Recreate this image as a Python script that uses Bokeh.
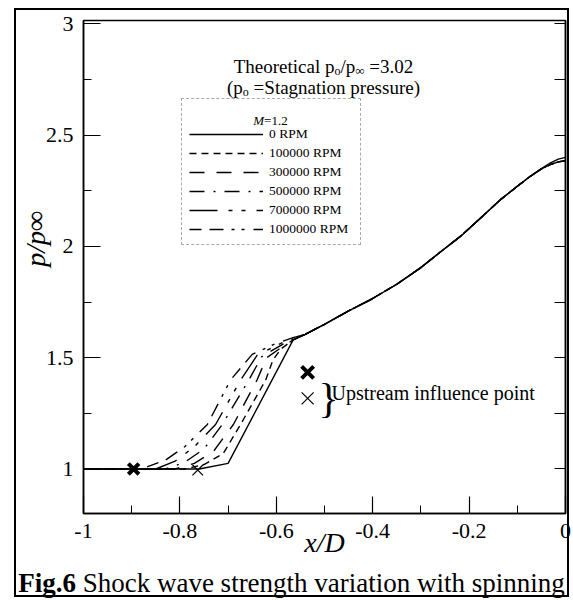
import math
from bokeh.plotting import figure
from bokeh.models import Legend, LegendItem, Label, FixedTicker, LinearAxis, Range1d, Div
from bokeh.layouts import column
from bokeh.embed import file_html
from bokeh.resources import INLINE

# ---------------- data ----------------
series_labels = ["0 RPM", "100000 RPM", "300000 RPM", "500000 RPM", "700000 RPM", "1000000 RPM"]

x_0rpm = [-1.0, -0.9, -0.8, -0.76, -0.70, -0.565]
y_0rpm = [1.0, 1.0, 1.0, 1.0, 1.025, 1.58]
x_100k = [-1.0, -0.79, -0.75, -0.71, -0.674, -0.622, -0.607, -0.59, -0.565]
y_100k = [1.0, 1.0, 1.02, 1.07, 1.2, 1.4, 1.49, 1.54, 1.58]
x_300k = [-1.0, -0.81, -0.77, -0.73, -0.689, -0.64, -0.62, -0.59, -0.565]
y_300k = [1.0, 1.0, 1.025, 1.08, 1.2, 1.4, 1.50, 1.545, 1.58]
x_500k = [-1.0, -0.83, -0.79, -0.75, -0.712, -0.657, -0.63, -0.595, -0.565]
y_500k = [1.0, 1.0, 1.03, 1.09, 1.2, 1.4, 1.505, 1.55, 1.585]
x_700k = [-1.0, -0.85, -0.81, -0.77, -0.726, -0.674, -0.64, -0.60, -0.565]
y_700k = [1.0, 1.0, 1.035, 1.1, 1.2, 1.4, 1.51, 1.555, 1.59]
x_1m = [-1.0, -0.88, -0.83, -0.79, -0.743, -0.695, -0.65, -0.605, -0.565]
y_1m = [1.0, 1.0, 1.04, 1.1, 1.2, 1.4, 1.515, 1.56, 1.59]

x_post = [-0.54, -0.5, -0.45, -0.405, -0.35, -0.3, -0.259, -0.218, -0.18, -0.135, -0.1, -0.073, -0.05, -0.031, -0.015, 0.0]
y_post_0rpm = [1.605, 1.65, 1.71, 1.76, 1.83, 1.905, 1.976, 2.045, 2.12, 2.21, 2.27, 2.315, 2.35, 2.375, 2.392, 2.40]
y_post_spin = [1.605, 1.65, 1.71, 1.76, 1.83, 1.905, 1.976, 2.045, 2.12, 2.21, 2.27, 2.315, 2.348, 2.368, 2.380, 2.385]

upstream_bold_x = [-0.896]
upstream_bold_y = [1.0]
upstream_thin_x = [-0.763]
upstream_thin_y = [0.995]
key_bold_x = [-0.535]
key_bold_y = [1.434]
key_thin_x = [-0.535]
key_thin_y = [1.317]

x_ticks = [-1.0, -0.8, -0.6, -0.4, -0.2, 0.0]
x_tick_labels = ["-1", "-0.8", "-0.6", "-0.4", "-0.2", "0"]
x_minor = [-0.9, -0.7, -0.5, -0.3, -0.1]
y_ticks = [1.0, 1.5, 2.0, 2.5, 3.0]
y_tick_labels = ["1", "1.5", "2", "2.5", "3"]
y_minor = [1.25, 1.75, 2.25, 2.75]

# ---------------- geometry helpers (page px -> data) ----------------
X0, X1, Y0, Y1 = -1.0, 0.0, 0.8, 3.015
FL, FR, FT, FB = 83, 565, 20, 513
W, H = 573, 566


def xd(px):
    return X0 + (px - FL) * (X1 - X0) / (FR - FL)


def yd(py):
    return Y0 + (FB - py) * (Y1 - Y0) / (FB - FT)


SERIF = "Liberation Serif"
TN = {' ': 250, '(': 333, ')': 333, '.': 250, '/': 278, '0': 500, '1': 500, '2': 500, '3': 500,
      '6': 500, '=': 564, 'S': 556, 'T': 611, 'a': 444, 'c': 444, 'e': 444, 'g': 500, 'h': 500,
      'i': 278, 'l': 278, 'n': 500, 'o': 500, 'p': 500, 'r': 333, 's': 389, 't': 278, 'u': 500,
      '\u221e': 713, 'M': 889}
TI = {'M': 833}


def tw(s, size, table=TN):
    return sum(table.get(c, 500) for c in s) * size / 1000.0


p = figure(width=W, height=H, x_range=Range1d(X0, X1), y_range=Range1d(Y0, Y1),
           output_backend="svg", toolbar_location=None,
           min_border_left=FL, min_border_right=W - FR, min_border_top=FT,
           min_border_bottom=H - FB)
p.grid.visible = False
p.outline_line_color = "black"
p.outline_line_width = 1.5
p.background_fill_color = "white"
p.border_fill_alpha = 0.0

for ax in p.xaxis:
    ax.ticker = FixedTicker(ticks=x_ticks, minor_ticks=x_minor)
    ax.major_label_overrides = {t: l for t, l in zip(x_ticks, x_tick_labels)}
    ax.axis_label = "x/D"
    ax.axis_label_standoff = -14
for ax in p.yaxis:
    ax.ticker = FixedTicker(ticks=y_ticks, minor_ticks=y_minor)
    ax.major_label_overrides = {t: l for t, l in zip(y_ticks, y_tick_labels)}
    ax.axis_label = "\u00a0" * 8 + "p/p\u221e"
    ax.axis_label_standoff = -8

right_axis = LinearAxis(ticker=FixedTicker(ticks=[], minor_ticks=sorted(y_ticks + y_minor)))
p.add_layout(right_axis, "right")

for ax in p.axis:
    ax.major_tick_in = 17
    ax.major_tick_out = 0
    ax.minor_tick_in = 8
    ax.minor_tick_out = 0
    ax.major_tick_line_color = "black"
    ax.minor_tick_line_color = "black"
    ax.major_tick_line_width = 1.2
    ax.minor_tick_line_width = 1.0
    ax.axis_line_color = "black"
    ax.axis_line_width = 1.5
    ax.major_label_text_font = SERIF
    ax.major_label_text_font_size = "22px"
    ax.major_label_text_color = "black"
    ax.major_label_standoff = 10
    ax.axis_label_text_font = SERIF
    ax.axis_label_text_font_size = "28px"
    ax.axis_label_text_font_style = "italic"
    ax.axis_label_text_color = "black"
right_axis.minor_tick_in = 11

# ---------------- curves ----------------
dashes = ["solid", "7 5", "15 12", "15 9 2 9", "28 11 4 9 4 11", "12 8 14 8 3 7 3 9"]
pre_x = [x_0rpm, x_100k, x_300k, x_500k, x_700k, x_1m]
pre_y = [y_0rpm, y_100k, y_300k, y_500k, y_700k, y_1m]
renderers = []
for i, (lab, xs, ys, dash) in enumerate(zip(series_labels, pre_x, pre_y, dashes)):
    post = y_post_0rpm if i == 0 else y_post_spin
    r = p.line(xs + x_post, ys + post, line_color="black", line_width=1.4, line_dash=dash)
    renderers.append(r)

p.scatter(upstream_bold_x, upstream_bold_y, marker="x", size=15, line_width=4, line_color="black")
p.scatter(upstream_thin_x, upstream_thin_y, marker="x", size=15, line_width=1.2, line_color="black")
p.scatter(key_bold_x, key_bold_y, marker="x", size=17, line_width=4, line_color="black")
p.scatter(key_thin_x, key_thin_y, marker="x", size=17, line_width=1.2, line_color="black")

# ---------------- legend ----------------
legend = Legend(items=[LegendItem(label=l, renderers=[r]) for l, r in zip(series_labels, renderers)],
                location=(181 - FL, FB - 245), title=" ", margin=0,
                glyph_width=74, glyph_height=14, label_height=14, label_width=84,
                label_standoff=6, spacing=3, padding=7, title_standoff=4,
                label_text_font=SERIF, label_text_font_size="13.5px", label_text_color="black",
                title_text_font=SERIF, title_text_font_size="13px",
                border_line_color="#555555", border_line_width=1, border_line_dash="4 2 1 2",
                background_fill_alpha=0.0)
p.add_layout(legend)


def add_text(text, px, py, size, style="normal", align="left", baseline="alphabetic"):
    p.add_layout(Label(x=xd(px), y=yd(py), text=text, text_font=SERIF, text_font_size=f"{size}px",
                       text_font_style=style, text_align=align, text_baseline=baseline,
                       text_color="black"))


def add_line(segments, center_px, baseline_py):
    total = sum(tw(s, sz, tb) for s, sz, tb, st, dy in segments)
    x = center_px - total / 2.0
    for s, sz, tb, st, dy in segments:
        lead = len(s) - len(s.lstrip(" "))
        add_text(s.strip(" "), x + tw(" " * lead, sz, tb), baseline_py + dy, sz, st)
        x += tw(s, sz, tb)


add_line([("M", 13, TI, "italic", 0), ("=1.2", 13, TN, "normal", 0)], 270, 120)

add_line([("Theoretical p", 19, TN, "normal", 0), ("o", 12, TN, "normal", 4),
          ("/p", 19, TN, "normal", 0), ("\u221e", 13, TN, "normal", 4),
          (" =3.02", 19, TN, "normal", 0)], 323, 66)
add_line([("(p", 19, TN, "normal", 0), ("o", 12, TN, "normal", 4),
          (" =Stagnation pressure)", 19, TN, "normal", 0)], 323, 87)

add_text("}", 318, 397, 42)
add_text("Upstream influence point", 331, 392, 20)

caption = Div(text="<b>Fig.6</b> Shock wave strength variation with spinning",
              width=W, height=600 - H,
              styles={"font-family": "'Liberation Serif', serif", "font-size": "27px",
                      "text-align": "center", "line-height": "25px", "color": "black",
                      "white-space": "nowrap"})

edge = "linear-gradient(#000,#000)"
border_bg = ", ".join([
    f"{edge} 14px 8px / 2px 589px no-repeat",
    f"{edge} 567px 8px / 2px 589px no-repeat",
    f"{edge} 14px 8px / 555px 2px no-repeat",
    f"{edge} 14px 595px / 555px 2px no-repeat",
])

layout = column(p, caption, spacing=0, styles={"background": border_bg})

open("out.html", "w").write(file_html(layout, INLINE))
